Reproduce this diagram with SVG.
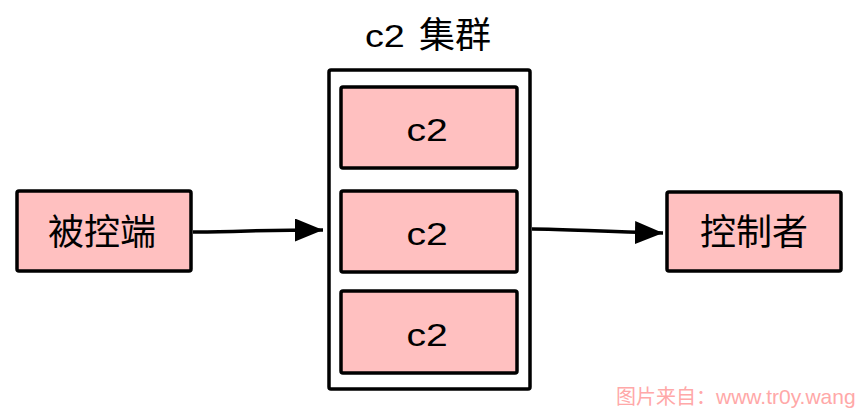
<svg xmlns="http://www.w3.org/2000/svg" width="862" height="410" viewBox="0 0 862 410">
<style>
.box{fill:#ffc0c0;stroke:#000;stroke-width:3.5}
.cluster{fill:#fff;stroke:#000;stroke-width:3.5}
.lat{font-family:"Liberation Sans",Arial,sans-serif;font-size:32px;fill:#000}
.cjk{font-family:"Noto Sans CJK SC","Liberation Sans",sans-serif;font-size:36px;fill:#000}
.edge{fill:none;stroke:#000;stroke-width:3.5}
.wm{font-family:"Liberation Sans","Noto Sans CJK SC",sans-serif;font-size:20px;fill:#ffa8a8}
</style>
<defs>
<marker id="arr" viewBox="0 0 28 23" refX="28" refY="11.5" markerWidth="28" markerHeight="23" markerUnits="userSpaceOnUse" orient="auto">
<path d="M0,0 L28,11.5 L0,23 Z" fill="#000"/>
</marker>
</defs>
<g id="cluster">
<rect class="cluster" x="329" y="70" width="201" height="319" rx="2"/>
<text transform="translate(365,47) scale(1.18,1)" class="lat">c2</text>
<text x="419" y="48" class="cjk">集群</text>
</g>
<g id="c2-1">
<rect class="box" x="341" y="87" width="176" height="81" rx="2"/>
<text transform="translate(427,141) scale(1.22,1)" class="lat" text-anchor="middle">c2</text>
</g>
<g id="c2-2">
<rect class="box" x="341" y="191" width="176" height="81" rx="2"/>
<text transform="translate(427,245) scale(1.22,1)" class="lat" text-anchor="middle">c2</text>
</g>
<g id="c2-3">
<rect class="box" x="341" y="291" width="176" height="82" rx="2"/>
<text transform="translate(427,346) scale(1.22,1)" class="lat" text-anchor="middle">c2</text>
</g>
<g id="victim">
<rect class="box" x="17" y="191" width="174" height="80" rx="2"/>
<text x="102" y="245" class="cjk" text-anchor="middle">被控端</text>
</g>
<g id="controller">
<rect class="box" x="667" y="192" width="174" height="79" rx="2"/>
<text x="754" y="245" class="cjk" text-anchor="middle">控制者</text>
</g>
<g id="edges">
<path class="edge" d="M193,232 C230,232 260,230 323,230" marker-end="url(#arr)"/>
<path class="edge" d="M532,229 C570,229 600,232 663,233" marker-end="url(#arr)"/>
</g>
<text x="616" y="404" class="wm">图片来自：<tspan font-size="21">www.tr0y.wang</tspan></text>
</svg>
